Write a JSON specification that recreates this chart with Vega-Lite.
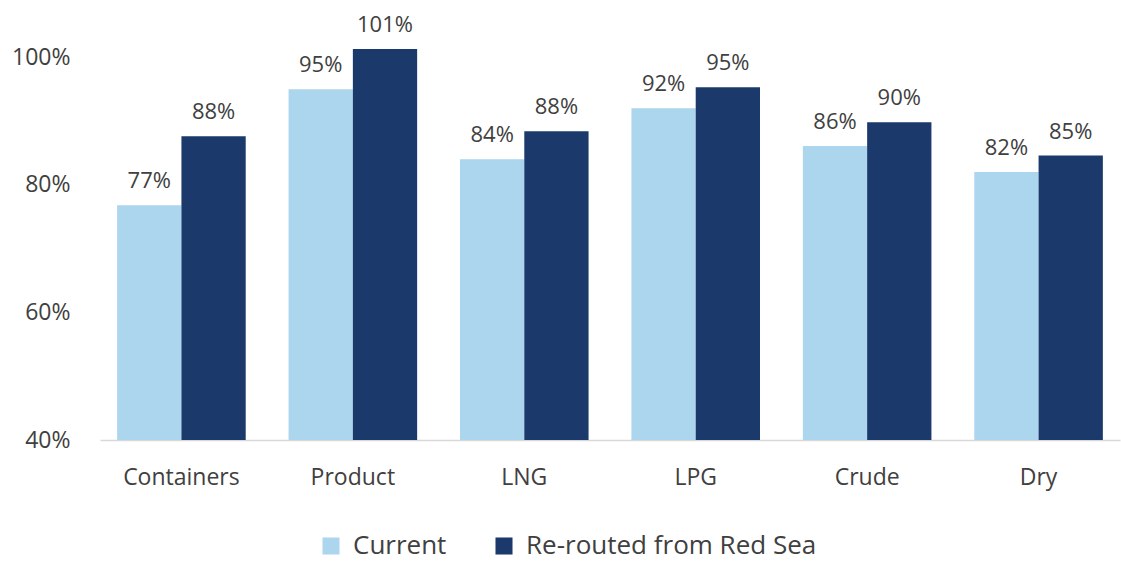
{
  "$schema": "https://vega.github.io/schema/vega-lite/v6.json",
  "autosize": "none",
  "padding": {"left": 100, "top": 19, "right": 1, "bottom": 121},
  "width": 1020,
  "height": 421,
  "background": "white",
  "config": {
    "view": {"stroke": null},
    "font": "Open Sans",
    "axis": {"labelFont": "Open Sans", "labelColor": "#404040", "labelFontSize": 23}
  },
  "data": {
    "values": [
      {"category": "Containers", "series": "Current", "value": 0.768},
      {"category": "Containers", "series": "Re-routed from Red Sea", "value": 0.876},
      {"category": "Product", "series": "Current", "value": 0.95},
      {"category": "Product", "series": "Re-routed from Red Sea", "value": 1.013},
      {"category": "LNG", "series": "Current", "value": 0.84},
      {"category": "LNG", "series": "Re-routed from Red Sea", "value": 0.884},
      {"category": "LPG", "series": "Current", "value": 0.92},
      {"category": "LPG", "series": "Re-routed from Red Sea", "value": 0.953},
      {"category": "Crude", "series": "Current", "value": 0.861},
      {"category": "Crude", "series": "Re-routed from Red Sea", "value": 0.898},
      {"category": "Dry", "series": "Current", "value": 0.82},
      {"category": "Dry", "series": "Re-routed from Red Sea", "value": 0.846}
    ]
  },
  "encoding": {
    "x": {
      "field": "category",
      "type": "nominal",
      "sort": null,
      "scale": {"paddingInner": 0.25, "paddingOuter": 0.1},
      "axis": {
        "title": null,
        "labelAngle": 0,
        "ticks": false,
        "domainColor": "#d9d9d9",
        "domainWidth": 1.5,
        "labelPadding": 26
      }
    },
    "xOffset": {"field": "series", "type": "nominal", "sort": null},
    "y": {
      "field": "value",
      "type": "quantitative",
      "scale": {"domain": [0.4, 1.06], "zero": false, "nice": false},
      "axis": {
        "title": null,
        "format": ".0%",
        "values": [0.4, 0.6, 0.8, 1.0],
        "grid": false,
        "ticks": false,
        "domain": false,
        "labelPadding": 30
      }
    }
  },
  "layer": [
    {
      "mark": {"type": "bar", "clip": true},
      "encoding": {
        "color": {
          "field": "series",
          "type": "nominal",
          "sort": null,
          "scale": {"domain": ["Current", "Re-routed from Red Sea"], "range": ["#abd6ee", "#1b3a6b"]},
          "legend": {
            "title": null,
            "orient": "none",
            "legendX": 218,
            "legendY": 514,
            "direction": "horizontal",
            "labelFontSize": 26,
            "labelColor": "#404040",
            "labelFont": "Open Sans",
            "labelLimit": 600,
            "symbolType": "square",
            "symbolSize": 290,
            "symbolStrokeWidth": 0,
            "columnPadding": 44,
            "labelOffset": 9
          }
        }
      }
    },
    {
      "mark": {"type": "text", "baseline": "bottom", "dy": -12, "fontSize": 22, "color": "#404040", "font": "Open Sans"},
      "encoding": {
        "text": {"field": "value", "type": "quantitative", "format": ".0%"}
      }
    }
  ]
}
